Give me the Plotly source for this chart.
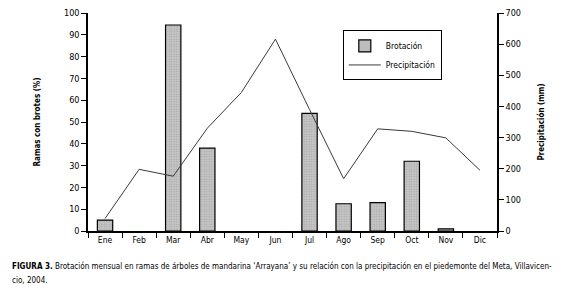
import plotly.graph_objects as go

meses = ["Ene", "Feb", "Mar", "Abr", "May", "Jun", "Jul", "Ago", "Sep", "Oct", "Nov", "Dic"]
brotacion = [5, None, 94.5, 38, None, None, 54, 12.5, 13, 32, 1, None]
precipitacion = [40, 198, 176, 330, 445, 616, 390, 168, 328, 320, 299, 195]

FONT = "Liberation Sans Narrow, DejaVu Sans Condensed, Arial Narrow, sans-serif"

fig = go.Figure()
fig.add_trace(go.Bar(
    x=meses, y=brotacion, name="Brotación", width=0.45,
    marker=dict(color="#bdbdbd", line=dict(color="black", width=1.2),
                pattern=dict(shape=".", size=2.5, solidity=0.4, fgcolor="#8a8a8a", bgcolor="#c8c8c8")),
    yaxis="y",
))
fig.add_trace(go.Scatter(
    x=meses, y=precipitacion, name="Precipitación", mode="lines",
    line=dict(color="#3a3a3a", width=1), yaxis="y2",
))

fig.update_layout(
    width=568, height=280,
    margin=dict(l=80, r=79, t=5, b=57, autoexpand=False),
    plot_bgcolor="white", paper_bgcolor="white",
    font=dict(family=FONT, size=9, color="black"),
    showlegend=True,
    legend=dict(x=0.623, y=0.92, xanchor="left", yanchor="top",
                bordercolor="black", borderwidth=1, bgcolor="white",
                font=dict(size=8.5), itemwidth=32, tracegroupgap=4),
    xaxis=dict(type="category", showline=True, linecolor="black", linewidth=1.5,
               ticks="outside", tickson="boundaries", ticklen=5, tickcolor="black",
               tickwidth=1.2, showgrid=False, zeroline=False, tickfont=dict(size=8.5),
               automargin=False),
    yaxis=dict(range=[0, 100], dtick=10, showline=True, linecolor="black", linewidth=1.5,
               ticks="outside", ticklen=5, tickcolor="black", tickwidth=1.2,
               showgrid=False, zeroline=False, automargin=False, tickfont=dict(size=9),
               title=dict(text="<b>Ramas con brotes (%)</b>", font=dict(size=8), standoff=22)),
    yaxis2=dict(range=[0, 700], dtick=100, overlaying="y", side="right",
                showline=True, linecolor="black", linewidth=1.5,
                ticks="outside", ticklen=5, tickcolor="black", tickwidth=1.2,
                showgrid=False, zeroline=False, automargin=False, tickfont=dict(size=9),
                title=dict(text="<b>Precipitación (mm)</b>", font=dict(size=8), standoff=18)),
)

fig.add_annotation(
    xref="paper", yref="paper", x=-0.19, y=-0.16, xanchor="left", yanchor="middle",
    align="left", showarrow=False, font=dict(size=8, family=FONT),
    text="<b>FIGURA 3.</b> Brotación mensual en ramas de árboles de mandarina ‘Arrayana’ y su relación con la precipitación en el piedemonte del Meta, Villavicen-",
)
fig.add_annotation(
    xref="paper", yref="paper", x=-0.19, y=-0.225, xanchor="left", yanchor="middle",
    align="left", showarrow=False, font=dict(size=8, family=FONT),
    text="cio, 2004.",
)

fig.write_html("out.html")
